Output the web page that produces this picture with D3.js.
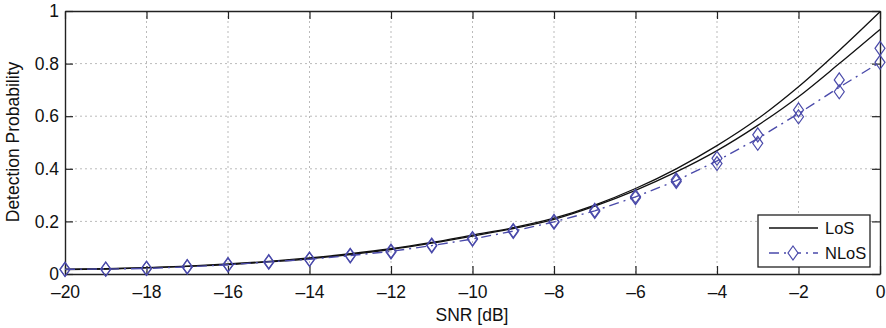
<!DOCTYPE html>
<html><head><meta charset="utf-8">
<script src="https://cdn.jsdelivr.net/npm/d3@7"></script>
<style>body{margin:0;background:#fff}svg{display:block}text{font-family:"Liberation Sans",Arial,sans-serif;fill:#111}</style>
</head><body><svg id="c" width="886" height="328"></svg>
<script>
const snr = [-20,-19,-18,-17,-16,-15,-14,-13,-12,-11,-10,-9,-8,-7,-6,-5,-4,-3,-2,-1,0];
const losA = [0.018,0.020,0.024,0.030,0.038,0.048,0.061,0.077,0.096,0.120,0.148,0.176,0.212,0.262,0.325,0.400,0.488,0.590,0.712,0.850,0.997];
const losB = [0.017,0.019,0.023,0.029,0.036,0.046,0.058,0.074,0.093,0.117,0.144,0.173,0.208,0.258,0.318,0.388,0.469,0.565,0.674,0.800,0.930];
const nlosA = [0.018,0.019,0.022,0.028,0.036,0.047,0.057,0.071,0.087,0.110,0.135,0.165,0.200,0.242,0.295,0.358,0.440,0.529,0.624,0.738,0.858];
const nlosB = [0.017,0.018,0.021,0.027,0.034,0.045,0.055,0.069,0.084,0.107,0.132,0.162,0.197,0.238,0.290,0.352,0.420,0.497,0.598,0.693,0.805];
const nlosLine = [0.018,0.019,0.021,0.027,0.035,0.046,0.056,0.070,0.086,0.108,0.133,0.163,0.198,0.240,0.293,0.355,0.430,0.515,0.610,0.710,0.805];
const xTicks = [-20,-18,-16,-14,-12,-10,-8,-6,-4,-2,0];
const yTicks = [0,0.2,0.4,0.6,0.8,1];
const seriesNames = ["LoS","NLoS"];

const L=65,R=880,T=11,B=274;
const svg=d3.select("#c");
const x=d3.scaleLinear().domain([-20,0]).range([L,R]);
const y=d3.scaleLinear().domain([0,1]).range([B,T]);
const fmtX=d=>d<0?"\u2013"+Math.abs(d):String(d);
const fmtY=d=>d===0||d===1?String(d):d.toFixed(1);

// grid
const g=svg.append("g");
g.selectAll(".gx").data(xTicks.slice(1,-1)).join("line").attr("x1",d=>x(d)).attr("x2",d=>x(d)).attr("y1",T).attr("y2",B)
 .attr("stroke","#bbb").attr("stroke-width",1).attr("stroke-dasharray","2,3");
g.selectAll(".gy").data(yTicks.slice(1,-1)).join("line").attr("y1",d=>y(d)).attr("y2",d=>y(d)).attr("x1",L).attr("x2",R)
 .attr("stroke","#bbb").attr("stroke-width",1).attr("stroke-dasharray","2,3");

// axes
const ax=svg.append("g").attr("transform",`translate(0,${B})`).call(d3.axisBottom(x).tickValues(xTicks).tickFormat(fmtX).tickSizeInner(-8).tickSizeOuter(0).tickPadding(12));
const ay=svg.append("g").attr("transform",`translate(${L},0)`).call(d3.axisLeft(y).tickValues(yTicks).tickFormat(fmtY).tickSizeInner(-8).tickSizeOuter(0).tickPadding(6));
const axT=svg.append("g").attr("transform",`translate(0,${T})`).call(d3.axisTop(x).tickValues(xTicks).tickFormat("").tickSizeInner(-8).tickSizeOuter(0));
const ayR=svg.append("g").attr("transform",`translate(${R},0)`).call(d3.axisRight(y).tickValues(yTicks).tickFormat("").tickSizeInner(-8).tickSizeOuter(0));
[ax,ay,axT,ayR].forEach(a=>{a.selectAll("path").attr("stroke","#222").attr("stroke-width",1.4);a.selectAll("line").attr("stroke","#222").attr("stroke-width",1.2);a.selectAll("text").style("font-size","17.5px").attr("fill","#111").style("font-family","'Liberation Sans',Arial,sans-serif");});

// lines
const line=d3.line().x((d,i)=>x(snr[i])).y(d=>y(d)).curve(d3.curveMonotoneX);
[losA,losB].forEach(s=>svg.append("path").attr("d",line(s)).attr("fill","none").attr("stroke","#111").attr("stroke-width",1.3));
const blue="#4a4aaa";
svg.append("path").attr("d",d3.line().x((d,i)=>x(snr[i])).y(d=>y(d))(nlosLine)).attr("fill","none").attr("stroke",blue).attr("stroke-width",1.4).attr("stroke-dasharray","10,5,2,5");
const diamond=(cx,cy)=>`M${cx},${cy-7}L${cx+5},${cy}L${cx},${cy+7}L${cx-5},${cy}Z`;
[nlosA,nlosB].forEach(s=>{
  svg.append("g").selectAll("path").data(s).join("path").attr("d",(d,i)=>diamond(x(snr[i]),y(d))).attr("fill","none").attr("stroke",blue).attr("stroke-width",1.2);
});

// labels
svg.append("text").attr("x",472).attr("y",321).attr("text-anchor","middle").style("font-size","17.5px").text("SNR [dB]");
svg.append("text").attr("transform","translate(19,142) rotate(-90)").attr("text-anchor","middle").style("font-size","17.5px").text("Detection Probability");

// legend
const lg=svg.append("g");
lg.append("rect").attr("x",758).attr("y",215).attr("width",112).attr("height",52).attr("fill","#fff").attr("stroke","#222").attr("stroke-width",1.3);
lg.append("line").attr("x1",769).attr("x2",818).attr("y1",228).attr("y2",228).attr("stroke","#111").attr("stroke-width",1.3);
lg.append("line").attr("x1",769).attr("x2",818).attr("y1",253).attr("y2",253).attr("stroke",blue).attr("stroke-width",1.4).attr("stroke-dasharray","10,5,2,5");
lg.append("path").attr("d",diamond(793,253)).attr("fill","#fff").attr("stroke",blue).attr("stroke-width",1.2);
lg.selectAll(".lt").data(seriesNames).join("text").attr("x",825).attr("y",(d,i)=>234+i*25).style("font-size","16.5px").text(d=>d);
</script></body></html>
